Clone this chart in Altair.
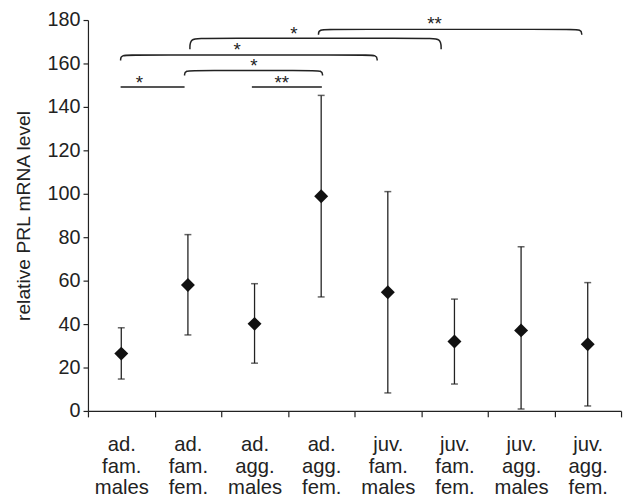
import altair as alt
import pandas as pd

# Data
groups = ["ad. fam. males", "ad. fam. fem.", "ad. agg. males", "ad. agg. fem.",
          "juv. fam. males", "juv. fam. fem.", "juv. agg. males", "juv. agg. fem."]
means = [26.4, 58.0, 40.1, 98.9, 54.7, 32.0, 37.1, 30.7]
lows = [14.7, 35.0, 22.0, 52.5, 8.3, 12.4, 0.9, 2.3]
highs = [38.3, 81.2, 58.6, 145.3, 101.0, 51.5, 75.6, 59.1]

# Significance annotations (x in category-position units 0..8)
line_x0 = [0.49, 2.46]
line_x1 = [1.45, 3.51]
line_y = [149.2, 149.2]

brace_x0 = [1.45, 0.49, 1.53, 3.46]
brace_x1 = [3.52, 4.34, 5.30, 7.41]
brace_top = [156.8, 163.9, 171.6, 175.7]
brace_end = [154.5, 161.4, 166.6, 173.2]

sig_labels = ["*", "**", "*", "*", "*", "**"]
sig_x = [0.77, 2.91, 2.49, 2.24, 3.09, 5.20]
sig_y = [148.3, 148.3, 156.3, 163.4, 170.7, 175.5]

FONT = "Liberation Sans"
YTITLE = "relative PRL mRNA level"

df = pd.DataFrame({"group": groups, "mean": means, "low": lows, "high": highs})
lines_df = pd.DataFrame({"x0": line_x0, "x1": line_x1, "y": line_y})

rows = []
for b, (x0, x1, top, end) in enumerate(zip(brace_x0, brace_x1, brace_top, brace_end)):
    pts = [(x0, end), (x0, top), (x0 + 0.2, top), (x1 - 0.2, top), (x1, top), (x1, end)]
    for i, (px, py) in enumerate(pts):
        rows.append({"brace": b, "order": i, "x": px, "y": py})
brace_df = pd.DataFrame(rows)
sig_df = pd.DataFrame({"label": sig_labels, "x": sig_x, "y": sig_y})

yscale = alt.Scale(domain=[0, 180], nice=False)
yaxis = alt.Axis(values=list(range(0, 181, 20)), grid=False, tickSize=5,
                 labelFontSize=20, labelPadding=3, titleFontSize=19.5,
                 titleFontWeight="normal", titlePadding=14, labelFont=FONT, titleFont=FONT)

def Y(field):
    return alt.Y(field, scale=yscale, axis=yaxis, title=YTITLE)

xband = alt.X("group:N", sort=groups, title=None,
              scale=alt.Scale(paddingInner=0, paddingOuter=0),
              axis=alt.Axis(labelExpr="split(datum.label, ' ')", tickBand="extent",
                            labelAngle=0, labelFontSize=20.5, labelLineHeight=22,
                            labelFont=FONT, tickSize=6, labelPadding=18,
                            labelBaseline="top"))

base = alt.Chart(df)
rule = base.mark_rule(color="#222", strokeWidth=1.3).encode(x=xband, y=Y("low:Q"), y2="high:Q")
cap_lo = base.mark_tick(color="#222", size=7, thickness=1.5).encode(x=xband, y=Y("low:Q"))
cap_hi = base.mark_tick(color="#222", size=7, thickness=1.5).encode(x=xband, y=Y("high:Q"))
pts = base.mark_point(shape="diamond", filled=True, size=200, color="#111", opacity=1).encode(
    x=xband, y=Y("mean:Q"))
band_layer = alt.layer(rule, cap_lo, cap_hi, pts)

xq = alt.Scale(domain=[0, 8], nice=False, zero=False)
sig_lines = alt.Chart(lines_df).mark_rule(color="#555", strokeWidth=2).encode(
    x=alt.X("x0:Q", scale=xq, axis=None), x2="x1:Q", y=Y("y:Q"))
braces = alt.Chart(brace_df).mark_line(color="#222", strokeWidth=1.5, interpolate="basis").encode(
    x=alt.X("x:Q", scale=xq, axis=None), y=Y("y:Q"), detail="brace:N", order="order:Q")
texts = alt.Chart(sig_df).mark_text(fontSize=19, font=FONT, baseline="alphabetic",
                                    align="center", color="#222").encode(
    x=alt.X("x:Q", scale=xq, axis=None), y=Y("y:Q"), text="label:N")
ann_layer = alt.layer(sig_lines, braces, texts)

chart = alt.layer(band_layer, ann_layer).resolve_scale(x="independent").properties(
    width=540, height=396,
    autosize=alt.AutoSizeParams(type="none"),
    padding={"left": 81, "top": 9, "right": 3, "bottom": 86},
).configure_view(stroke=None).configure_axis(
    domainColor="#222", tickColor="#222", labelColor="#222", titleColor="#222",
    domainWidth=1.2, tickWidth=1.2)

chart.save("out.html", embed_options={"renderer": "svg", "actions": False})
